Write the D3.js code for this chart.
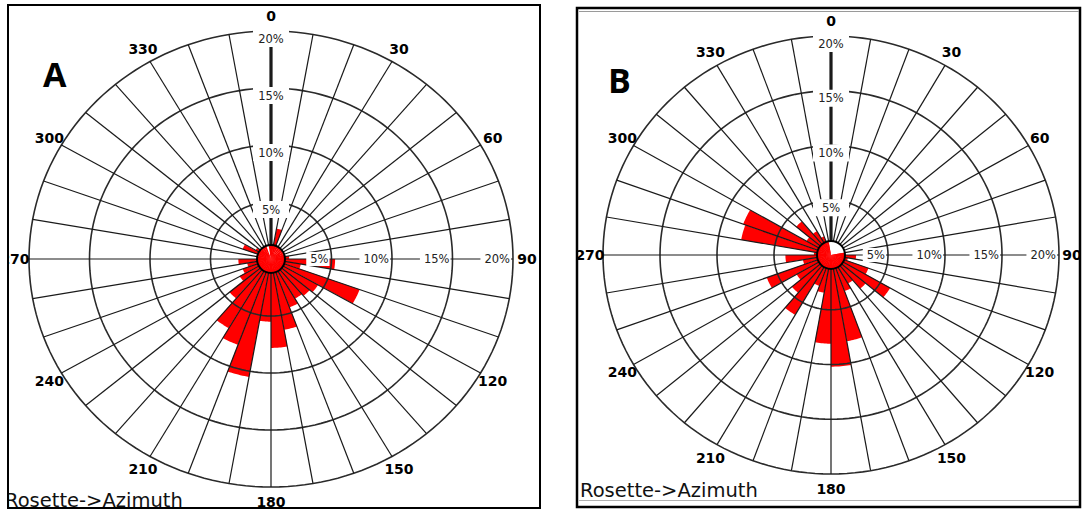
<!DOCTYPE html>
<html>
<head>
<meta charset="utf-8">
<script src="https://cdn.jsdelivr.net/npm/d3@7"></script>
<style>
body { margin: 0; background: #fff; }
svg { display: block; }
.ang { font-family: "DejaVu Sans"; font-weight: bold; font-size: 14px; fill: #000; }
.pct { font-family: "DejaVu Sans"; font-size: 11.5px; fill: #222; }
.title { font-family: "DejaVu Sans"; font-size: 19.5px; fill: #111; }
.panel { font-family: "Open Sans"; font-weight: bold; font-size: 34px; fill: #000; }
</style>
</head>
<body>
<svg id="chart" width="1082" height="512"></svg>
<script>
// 10 degree azimuth bins (start of each bin)
var binStarts = [0, 10, 20, 30, 40, 50, 60, 70, 80, 90, 100, 110, 120, 130, 140, 150, 160, 170,
    180, 190, 200, 210, 220, 230, 240, 250, 260, 270, 280, 290, 300, 310, 320, 330, 340, 350];

// percent of readings per bin
var roseA = [1.0, 2.7, 0.5, 0.5, 0.5, 0.8, 0.8, 1.0, 1.5, 5.3, 2.5, 7.8, 4.5, 4.2, 4.0, 4.5, 6.3, 7.8,
    5.5, 10.5, 8.0, 7.0, 4.5, 3.0, 2.5, 2.0, 2.7, 1.0, 1.0, 2.5, 1.5, 1.0, 0.8, 0.5, 0, 0.5];
var roseB = [0, 0, 0, 0, 0, 0, 0, 0, 1.0, 2.2, 1.5, 3.5, 6.0, 4.0, 3.0, 3.5, 8.0, 10.2,
    8.1, 3.5, 3.0, 6.3, 4.5, 3.5, 6.0, 2.5, 4.0, 1.5, 8.0, 8.2, 2.5, 4.0, 2.5, 1.8, 1.0, 0];

var ringPct = [5, 10, 15, 20];
var ringLabels = ['5%', '10%', '15%', '20%'];
var angleTicks = [0, 30, 60, 90, 120, 150, 180, 210, 240, 270, 300, 330];

var svg = d3.select('#chart');
var defs = svg.append('defs');

function drawRose(opt, values) {
    defs.append('clipPath').attr('id', opt.id + '-clip')
        .append('rect')
        .attr('x', opt.box[0] + 1).attr('y', opt.box[1] + 1)
        .attr('width', opt.box[2] - 2).attr('height', opt.box[3] - 2);

    var g = svg.append('g').attr('clip-path', 'url(#' + opt.id + '-clip)');

    var xr = d3.scaleLinear().domain([0, 20]).range([0, opt.rx]);
    var yr = d3.scaleLinear().domain([0, 20]).range([0, opt.ry]);
    var discR = 14;

    function pt(a, p) {
        var t = a * Math.PI / 180;
        return [opt.cx + xr(p) * Math.sin(t), opt.cy - yr(p) * Math.cos(t)];
    }

    var line = d3.line();
    var closed = d3.line().curve(d3.curveLinearClosed);

    // red wedges
    g.selectAll('.wedge')
        .data(binStarts.map(function (b, i) { return { a: b, v: values[i] }; })
            .filter(function (d) { return d.v > 0; }))
        .enter()
        .append('path')
        .attr('class', 'wedge')
        .attr('fill', '#ff0000')
        .attr('d', function (d) {
            var pts = [[opt.cx, opt.cy]];
            for (var a = d.a; a <= d.a + 10; a += 1) pts.push(pt(a, d.v));
            return closed(pts);
        });

    // centre disc, red where the bin has readings
    var arc = d3.arc().innerRadius(0).outerRadius(discR);
    g.selectAll('.disc')
        .data(binStarts.map(function (b, i) { return { a: b, v: values[i] }; })
            .filter(function (d) { return d.v > 0; }))
        .enter()
        .append('path')
        .attr('class', 'disc')
        .attr('fill', '#ff0000')
        .attr('transform', 'translate(' + [opt.cx, opt.cy] + ')')
        .attr('d', function (d) {
            return arc({ startAngle: d.a * Math.PI / 180, endAngle: (d.a + 10.3) * Math.PI / 180 });
        });

    // rings
    g.selectAll('.ring')
        .data(ringPct)
        .enter()
        .append('path')
        .attr('class', 'ring')
        .attr('fill', 'none')
        .attr('stroke', '#2a2a2a')
        .attr('stroke-width', 1.6)
        .attr('d', function (p) {
            var pts = [];
            for (var a = 0; a < 360; a += 2) pts.push(pt(a, p));
            return closed(pts);
        });

    // spokes every 10 degrees
    g.selectAll('.spoke')
        .data(binStarts)
        .enter()
        .append('path')
        .attr('class', 'spoke')
        .attr('stroke', '#1a1a1a')
        .attr('stroke-width', function (a) { return a === 0 ? 3.2 : 1.2; })
        .attr('d', function (a) {
            var t = a * Math.PI / 180;
            return line([[opt.cx + discR * Math.sin(t), opt.cy - discR * Math.cos(t)], pt(a, 20)]);
        });

    g.append('circle')
        .attr('cx', opt.cx).attr('cy', opt.cy).attr('r', discR)
        .attr('fill', 'none').attr('stroke', '#000').attr('stroke-width', 2);

    // percent labels on the 0 spoke
    ringPct.forEach(function (p, i) {
        var y = opt.cy - yr(p) + 7.5;
        g.append('rect')
            .attr('x', opt.cx - 18).attr('y', y - 8.5)
            .attr('width', 36).attr('height', 17)
            .attr('fill', '#fff');
        g.append('text')
            .attr('class', 'pct')
            .attr('x', opt.cx).attr('y', y)
            .attr('text-anchor', 'middle')
            .attr('dominant-baseline', 'central')
            .text(ringLabels[i]);
    });

    // percent labels on the 90 spoke
    ringPct.forEach(function (p, i) {
        var x = opt.cx + xr(p) - 3;
        var t = g.append('text')
            .attr('class', 'pct')
            .attr('x', x).attr('y', opt.cy)
            .attr('text-anchor', 'end')
            .attr('dominant-baseline', 'central')
            .text(ringLabels[i]);
        var w = t.node().getComputedTextLength();
        g.insert('rect', function () { return t.node(); })
            .attr('x', x - w - 4).attr('y', opt.cy - 7)
            .attr('width', w + 5).attr('height', 14)
            .attr('fill', '#fff');
    });

    // azimuth labels
    g.selectAll('.ang')
        .data(angleTicks)
        .enter()
        .append('text')
        .attr('class', 'ang')
        .attr('text-anchor', 'middle')
        .attr('dominant-baseline', 'central')
        .attr('x', function (a) { return opt.cx + (opt.rx + opt.ox) * Math.sin(a * Math.PI / 180); })
        .attr('y', function (a) { return opt.cy - (opt.ry + opt.oy) * Math.cos(a * Math.PI / 180); })
        .text(function (a) { return a; });

    g.append('text')
        .attr('class', 'title')
        .attr('x', opt.titleX).attr('y', opt.titleY)
        .text('Rosette->Azimuth');

    svg.append('text')
        .attr('class', 'panel')
        .attr('x', opt.letterX).attr('y', opt.letterY)
        .text(opt.letter);

    svg.append('rect')
        .attr('x', opt.box[0]).attr('y', opt.box[1])
        .attr('width', opt.box[2]).attr('height', opt.box[3])
        .attr('fill', 'none').attr('stroke', '#000').attr('stroke-width', opt.border);
}

drawRose({ id: 'a', cx: 271, cy: 259, rx: 242, ry: 228, ox: 14, oy: 15,
    box: [8, 5, 532, 503], border: 2, titleX: 5, titleY: 507,
    letter: 'A', letterX: 43, letterY: 87 }, roseA);

drawRose({ id: 'b', cx: 831, cy: 255, rx: 228, ry: 219, ox: 13, oy: 15,
    box: [577, 8, 503, 499], border: 2.5, titleX: 580, titleY: 497,
    letter: 'B', letterX: 608, letterY: 93 }, roseB);

// inner grey frame lines of panel B
svg.append('line').attr('x1', 579).attr('x2', 1079).attr('y1', 11.5).attr('y2', 11.5)
    .attr('stroke', '#9a9a9a').attr('stroke-width', 1.2);
svg.append('line').attr('x1', 579).attr('x2', 1079).attr('y1', 500.5).attr('y2', 500.5)
    .attr('stroke', '#b0b0b0').attr('stroke-width', 1.2);
</script>
</body>
</html>
